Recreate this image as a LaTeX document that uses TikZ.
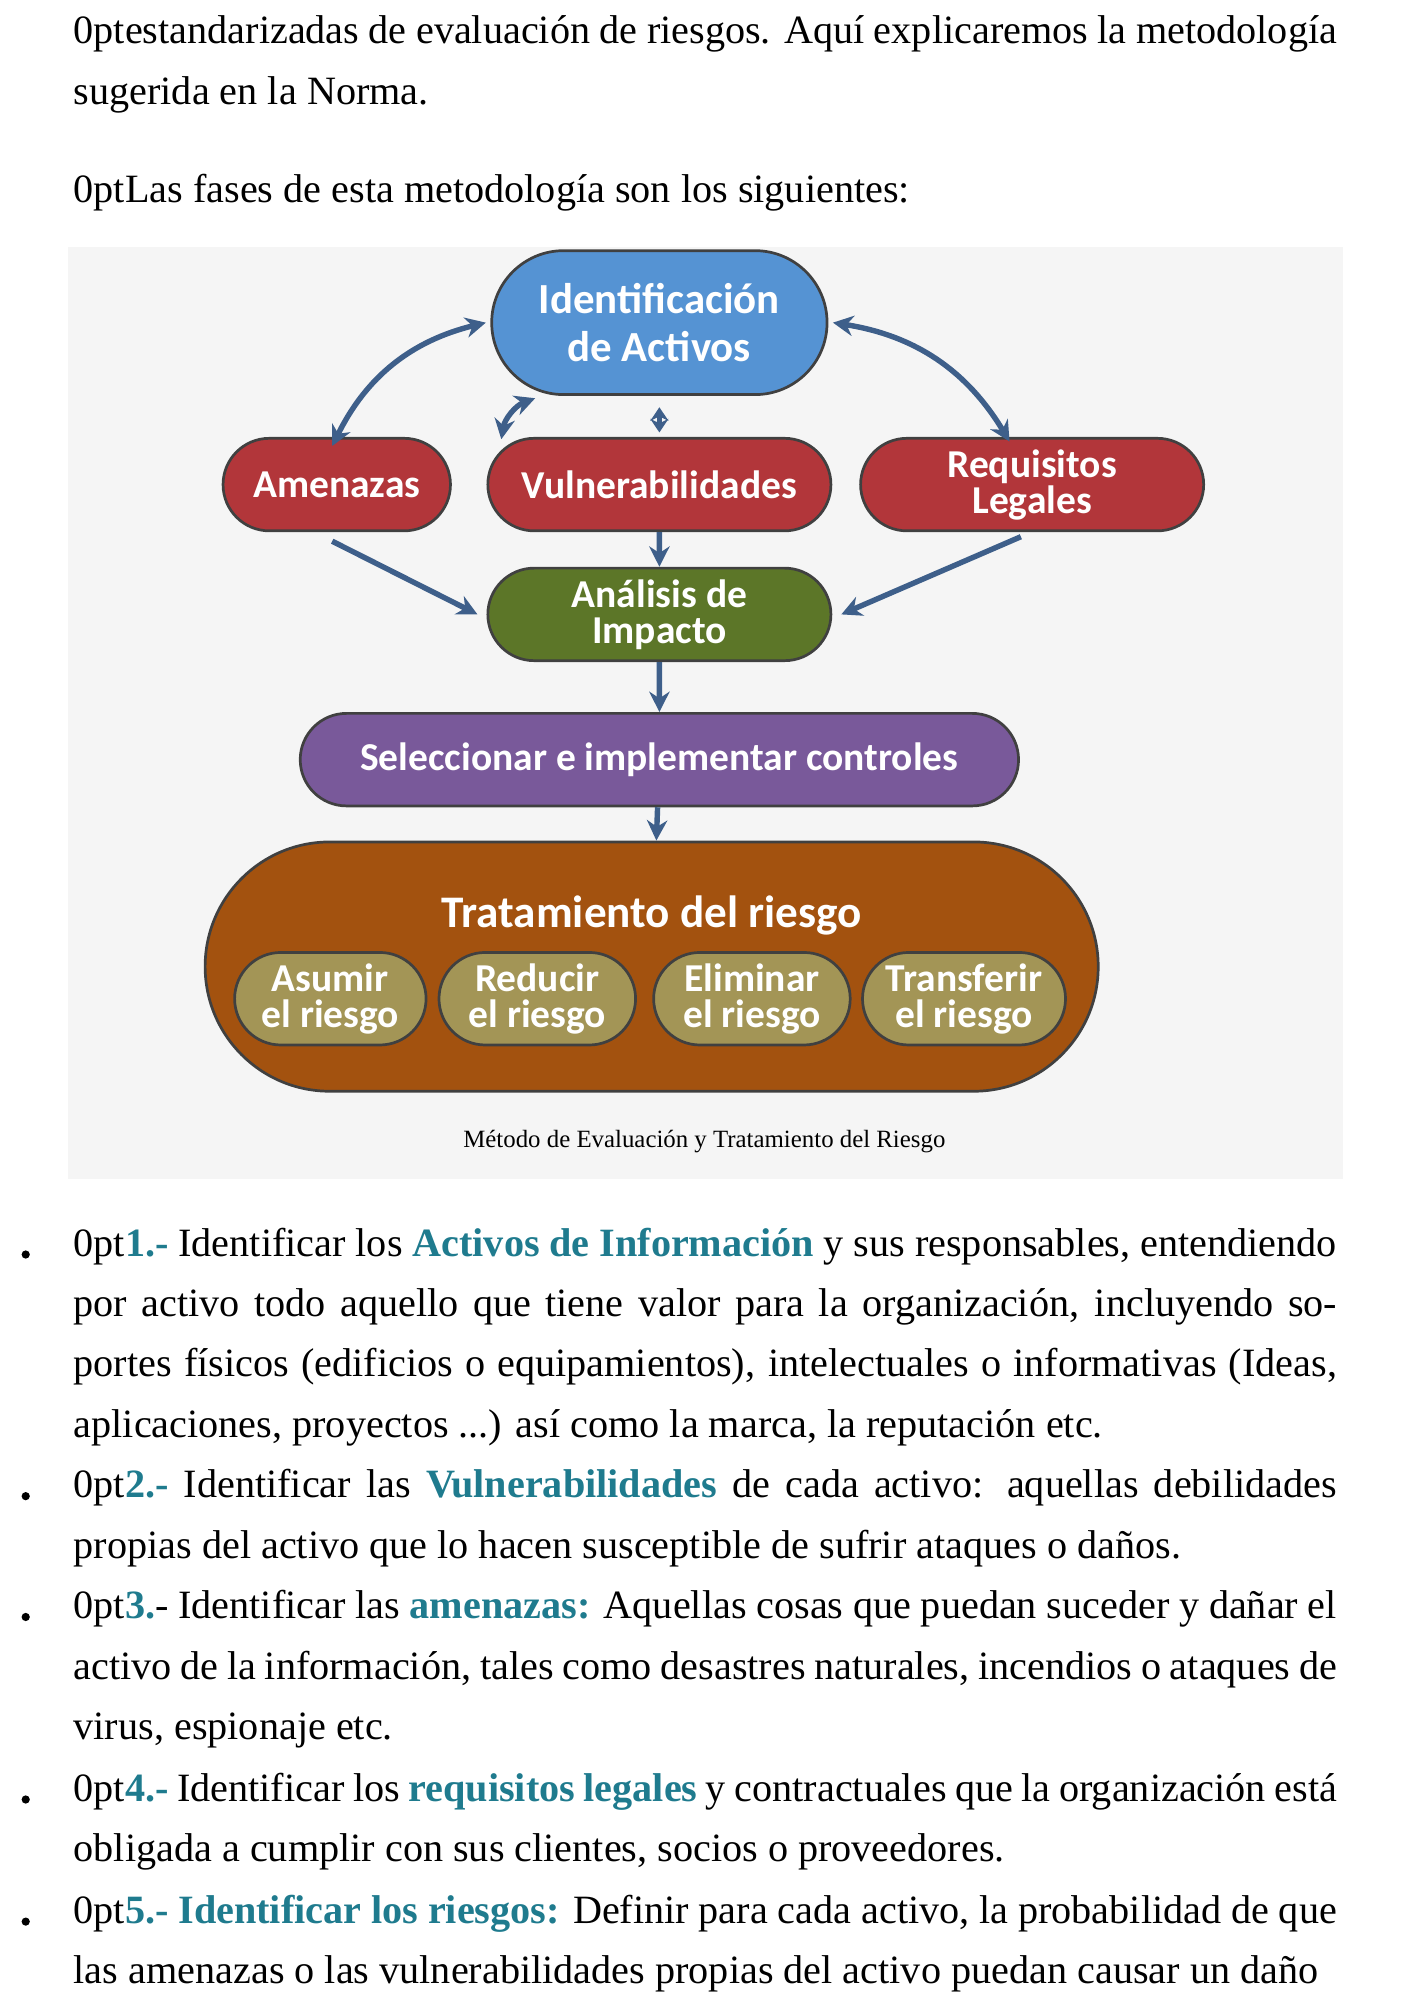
\documentclass[tikz,border=0pt]{standalone}
\usepackage{fontspec}
\setmainfont{Liberation Serif}
\newfontfamily\diagfont{Carlito}
\usetikzlibrary{shapes.misc,positioning,arrows.meta}
\definecolor{bgray}{HTML}{F5F5F5}
\definecolor{cblue}{HTML}{5593D3}
\definecolor{cred}{HTML}{B2363A}
\definecolor{cgreen}{HTML}{5C7628}
\definecolor{cpurple}{HTML}{79599A}
\definecolor{corange}{HTML}{A3520F}
\definecolor{ctan}{HTML}{A39556}
\definecolor{carrow}{HTML}{3E5F8A}
\definecolor{cteal}{HTML}{1F7B8E}
\tikzset{
  phase/.style={rounded rectangle, draw=black!75, line width=1.2pt, text=white,
    font=\diagfont\bfseries\fontsize{17.5}{16}\selectfont, align=center,
    minimum height=1.44cm, inner sep=2pt},
  flow/.style={-{Stealth[length=9pt,width=9pt]}, carrow, line width=2.4pt},
  both/.style={{Stealth[length=9pt,width=9pt]}-{Stealth[length=9pt,width=9pt]}, carrow, line width=2.4pt},
  shortboth/.style={{Stealth[length=6pt,width=8pt]}-{Stealth[length=6pt,width=8pt]}, carrow, line width=2.4pt},
  para/.style={anchor=north west, text width=19.66cm, align=justify, inner sep=0pt,
    font=\fontsize{17.8}{26.7}\selectfont\hyphenpenalty=10000\exhyphenpenalty=10000}
}
\newcommand{\hi}[1]{\textcolor{cteal}{\textbf{#1}}}
\begin{document}
\begin{tikzpicture}[x=0.02cm,y=-0.02cm]
  \useasboundingbox (0,0) rectangle (1107,1556);
  \fill[bgray] (53,192) rectangle (1045,917);

  % texto superior
  \node[para] (intro) at (57,12) {estandarizadas de evaluación de riesgos. Aquí explicaremos la metodología sugerida en la Norma.};
  \node[para, anchor=west] (fases) at (57,150) {Las fases de esta metodología son los siguientes:};

  % fases
  \node[phase, fill=cblue, minimum width=5.36cm, minimum height=2.24cm,
    font=\diagfont\bfseries\fontsize{19}{21}\selectfont] (ident) at (513,251) {Identificación\\de Activos};
  \node[phase, fill=cred, minimum width=3.68cm] (amen) at (262,377) {Amenazas};
  \node[phase, fill=cred, minimum width=5.48cm] (vuln) at (513,377) {Vulnerabilidades};
  \node[phase, fill=cred, minimum width=5.48cm] (req) at (803,377) {Requisitos\\Legales};
  \node[phase, fill=cgreen, minimum width=5.48cm] (anal) at (513,478) {Análisis de\\Impacto};
  \node[phase, fill=cpurple, minimum width=11.32cm] (sel) at (513,591) {Seleccionar e implementar controles};
  \node[phase, fill=corange, minimum width=14.04cm, minimum height=3.88cm] (trat) at (507,752) {};
  \node[text=white, font=\diagfont\bfseries\fontsize{20}{20}\selectfont] (tratlbl) at (507,712) {Tratamiento del riesgo};
  \node[phase, fill=ctan, minimum width=3.12cm] (asum) at (257,777) {Asumir\\el riesgo};
  \node[phase, fill=ctan, minimum width=3.2cm] (redu) at (418,777) {Reducir\\el riesgo};
  \node[phase, fill=ctan, minimum width=3.2cm] (elim) at (585,777) {Eliminar\\el riesgo};
  \node[phase, fill=ctan, minimum width=3.3cm] (tran) at (750,777) {Transferir\\el riesgo};
  \node[font=\fontsize{11}{11}\selectfont] (caption) at (548,888) {Método de Evaluación y Tratamiento del Riesgo};

  % conexiones
  \draw[both] ([xshift=-2pt,yshift=-4pt]amen.north) to[bend left=25] ([xshift=-2pt]ident.west);
  \draw[both] ([xshift=2pt]ident.east) to[bend left=25] ([xshift=-10pt,yshift=-2pt]req.north);
  \draw[shortboth] ([yshift=-5pt]ident.south) -- ([yshift=2pt]vuln.north);
  \draw[both] ([xshift=-70pt,yshift=-1pt]vuln.north) to[bend left=30] ([xshift=-55pt,yshift=-1pt]ident.south);
  \draw[flow] (vuln) -- (anal);
  \draw[flow] ([xshift=-2pt,yshift=-4pt]amen.south) -- ([xshift=-4pt]anal.west);
  \draw[flow] ([xshift=-5pt,yshift=-2pt]req.south) -- ([xshift=4pt]anal.east);
  \draw[flow] (anal) -- (sel);
  \draw[flow] (sel) -- (trat);

  % lista
  \foreach \yy in {976,1164,1258,1400,1495}
    \fill (20,\yy) circle (3.2);
  \node[para] (p1) at (57,955) {\hi{1.-} Identificar los \hi{Activos de Información} y sus responsables, entendiendo por activo todo aquello que tiene valor para la organización, incluyendo soportes físicos (edificios o equipamientos), intelectuales o informativas (Ideas, aplicaciones, proyectos ...) así como la marca, la reputación etc.};
  \node[para] (p2) at (57,1143) {\hi{2.-} Identificar las \hi{Vulnerabilidades} de cada activo: aquellas debilidades propias del activo que lo hacen susceptible de sufrir ataques o daños.};
  \node[para] (p3) at (57,1237) {\textcolor{cteal}{\textbf{3.}}- Identificar las \hi{amenazas:} Aquellas cosas que puedan suceder y dañar el activo de la información, tales como desastres naturales, incendios o ataques de virus, espionaje etc.};
  \node[para] (p4) at (57,1379) {\hi{4.-} Identificar los \hi{requisitos legales} y contractuales que la organización está obligada a cumplir con sus clientes, socios o proveedores.};
  \node[para] (p5) at (57,1474) {\parfillskip=0pt \hi{5.- Identificar los riesgos:} Definir para cada activo, la probabilidad de que las amenazas o las vulnerabilidades propias del activo puedan causar un daño};
\end{tikzpicture}
\end{document}
